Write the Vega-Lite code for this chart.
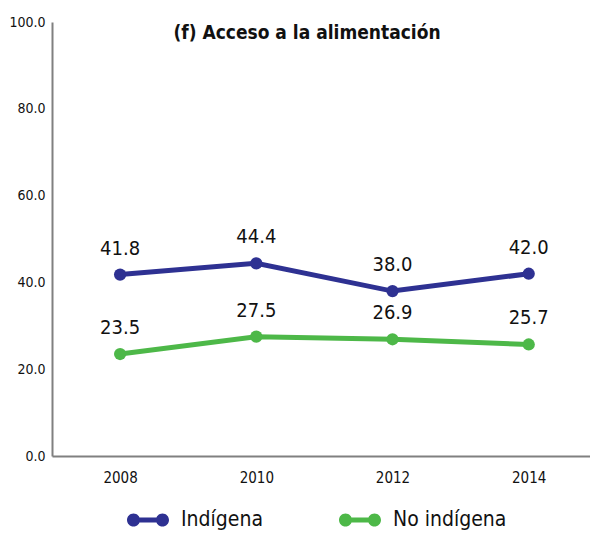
{
  "$schema": "https://vega.github.io/schema/vega-lite/v6.json",
  "width": 538,
  "height": 434,
  "autosize": {"type": "none"},
  "padding": {"left": 52, "top": 22, "right": 0, "bottom": 78},
  "background": "white",
  "config": {"font": "DejaVu Sans Condensed, Roboto, sans-serif", "view": {"stroke": null}},
  "title": {"text": "(f) Acceso a la alimentación", "fontSize": 19, "fontWeight": "bold", "anchor": "middle", "offset": -28, "dx": -14, "color": "#111111", "font": "DejaVu Sans Condensed, Roboto, sans-serif"},
  "data": {
    "values": [
      {"year": 2008, "value": 41.8, "series": "Indígena"},
      {"year": 2010, "value": 44.4, "series": "Indígena"},
      {"year": 2012, "value": 38.0, "series": "Indígena"},
      {"year": 2014, "value": 42.0, "series": "Indígena"},
      {"year": 2008, "value": 23.5, "series": "No indígena"},
      {"year": 2010, "value": 27.5, "series": "No indígena"},
      {"year": 2012, "value": 26.9, "series": "No indígena"},
      {"year": 2014, "value": 25.7, "series": "No indígena"}
    ]
  },
  "encoding": {
    "x": {"field": "year", "type": "quantitative", "scale": {"domain": [2007, 2014.9], "nice": false, "zero": false},
      "axis": {"values": [2008, 2010, 2012, 2014], "format": "d", "title": null, "ticks": false, "grid": false, "labelFontSize": 15, "labelPadding": 14, "labelColor": "#111111", "domainColor": "#808080", "domainWidth": 2}},
    "y": {"field": "value", "type": "quantitative", "scale": {"domain": [0, 100], "nice": false},
      "axis": {"values": [0, 20, 40, 60, 80, 100], "format": ".1f", "title": null, "ticks": false, "grid": false, "labelFontSize": 14, "labelPadding": 7, "labelColor": "#111111", "domainColor": "#808080", "domainWidth": 2}},
    "color": {"field": "series", "type": "nominal", "scale": {"domain": ["Indígena", "No indígena"], "range": ["#2e3192", "#4db848"]},
      "legend": {"orient": "none", "legendX": 75, "legendY": 477, "direction": "horizontal", "title": null,
        "symbolType": "M-1,0A0.31,0.31 0 1,1 -0.38,0A0.31,0.31 0 1,1 -1,0ZM0.38,0A0.31,0.31 0 1,1 1,0A0.31,0.31 0 1,1 0.38,0ZM-0.69,-0.12H0.69V0.12H-0.69Z",
        "symbolSize": 1764, "symbolStrokeWidth": 0, "labelFontSize": 21, "labelOffset": 12, "columnPadding": 76, "labelColor": "#111111"}}
  },
  "layer": [
    {"mark": {"type": "line", "strokeWidth": 5}},
    {"mark": {"type": "point", "filled": true, "size": 150, "opacity": 1}},
    {"mark": {"type": "text", "dy": -26, "fontSize": 20, "color": "#111111"},
      "encoding": {"text": {"field": "value", "type": "quantitative", "format": ".1f"}, "color": {"value": "#111111"}}}
  ]
}
